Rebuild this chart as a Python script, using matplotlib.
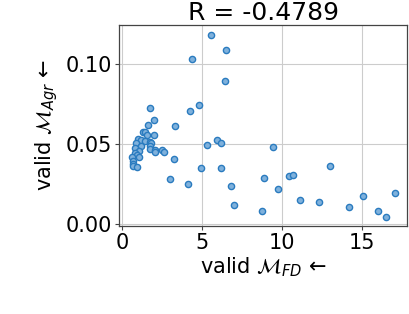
import matplotlib.pyplot as plt
from matplotlib.ticker import MultipleLocator

plt.rcParams['mathtext.fontset'] = 'dejavusans'
plt.rcParams['font.size'] = 15

# valid M_FD (x) and valid M_Agr (y)
fd = [5.56, 6.48, 4.38, 6.40, 1.73, 4.79, 4.21, 2.00, 1.58, 3.29,
      1.31, 1.40, 1.54, 2.00, 0.96, 1.19, 0.85, 1.40, 1.73, 1.79,
      1.19, 1.75, 1.75, 2.06, 2.06, 2.50, 2.60, 0.79, 1.02, 0.81,
      0.94, 1.06, 0.63, 0.67, 0.69, 0.69, 0.92, 3.21, 5.27, 5.92,
      6.17, 9.40, 4.90, 6.19, 2.96, 4.10, 6.81, 6.96, 8.83, 9.71,
      10.40, 10.69, 8.71, 11.08, 12.29, 12.98, 14.17, 15.02, 15.98, 16.46,
      17.06]
agr = [0.1185, 0.1092, 0.1035, 0.0894, 0.0725, 0.0748, 0.0706, 0.0650, 0.0623, 0.0617,
       0.0579, 0.0577, 0.0560, 0.0556, 0.0531, 0.0527, 0.0510, 0.0519, 0.0513, 0.0510,
       0.0492, 0.0492, 0.0471, 0.0465, 0.0454, 0.0467, 0.0450, 0.0477, 0.0460, 0.0444,
       0.0435, 0.0423, 0.0419, 0.0394, 0.0377, 0.0367, 0.0356, 0.0408, 0.0498, 0.0527,
       0.0510, 0.0481, 0.0350, 0.0350, 0.0283, 0.0254, 0.0238, 0.0119, 0.0292, 0.0221,
       0.0304, 0.0306, 0.0081, 0.0150, 0.0138, 0.0367, 0.0110, 0.0175, 0.0085, 0.0046,
       0.0198]
r_value = -0.4789

fig = plt.figure(figsize=(4.10, 3.14), dpi=100)
ax = fig.add_axes([0.291, 0.281, 0.702, 0.639])

ax.scatter(fd, agr, s=20, facecolor='#7fb1dc', edgecolor='#2a7bbf', linewidth=1.0, zorder=3)

ax.set_xlim(-0.19, 17.8)
ax.set_ylim(-0.0009, 0.1246)
ax.xaxis.set_major_locator(MultipleLocator(5))
ax.yaxis.set_major_locator(MultipleLocator(0.05))
ax.yaxis.set_major_formatter(plt.FormatStrFormatter('%.2f'))
ax.grid(True, color='#cccccc', linewidth=0.8)
ax.set_axisbelow(True)
for sp in ax.spines.values():
    sp.set_color('#444444')
    sp.set_linewidth(0.9)
ax.tick_params(length=3, width=0.8, color='#444444', pad=2)

ax.set_title('R = ' + str(r_value), pad=4)
ax.set_xlabel('valid $\\mathcal{M}_{FD}$ ' + '\u2190', labelpad=2)
ax.set_ylabel('valid $\\mathcal{M}_{Agr}$ ' + '\u2190', labelpad=4)

fig.savefig('out.png', dpi=100)
